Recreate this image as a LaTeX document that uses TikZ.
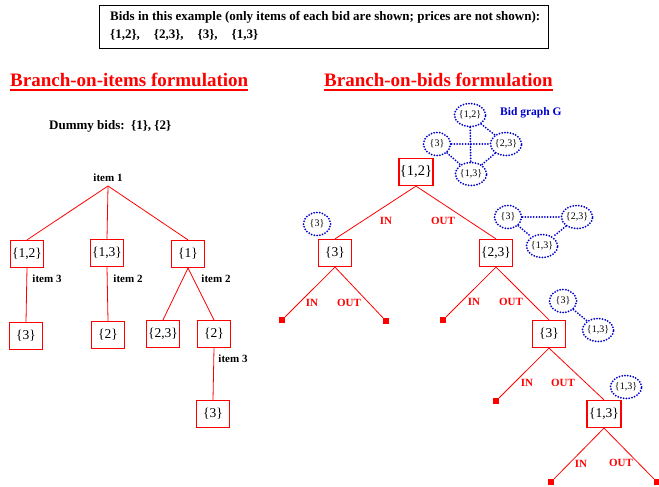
\documentclass[tikz,border=0pt]{standalone}
\usepackage{fontspec}
\setmainfont{Liberation Serif}
\usetikzlibrary{shapes.geometric}
\begin{document}
\begin{tikzpicture}[x=1pt,y=-1pt,
  bx/.style={draw=red, line width=1.2pt, minimum width=33pt, minimum height=27pt, inner sep=0pt, font=\fontsize{13.5}{13.5}\selectfont},
  lbl/.style={font=\fontsize{11}{11}\selectfont\bfseries, inner sep=0pt},
  io/.style={font=\fontsize{11}{11}\selectfont\bfseries, text=red, inner sep=0pt},
  ln/.style={draw=red, line width=0.8pt},
  leaf/.style={fill=red, minimum size=6pt, inner sep=0pt},
  bid/.style={ellipse, draw=blue!80!black, line width=2pt, dash pattern=on 0pt off 2.8pt, line cap=round, minimum width=27pt, minimum height=23pt, inner sep=0pt, font=\fontsize{10}{10}\selectfont},
  bidln/.style={draw=blue!80!black, line width=2pt, dash pattern=on 0pt off 2.8pt, line cap=round},
  head/.style={font=\fontsize{19}{19}\selectfont\bfseries, text=red, inner sep=0pt, anchor=base west}
]
\useasboundingbox (0,0) rectangle (659,487);

% top box
\node[draw=black, line width=1.1pt, minimum width=449pt, minimum height=43pt, anchor=north west, inner sep=0pt] (top) at (99,5) {};
\node[anchor=base west, inner sep=0pt, font=\fontsize{13}{13}\selectfont\bfseries] (t1) at (110,21) {Bids in this example (only items of each bid are shown; prices are not shown):};
\node[anchor=base west, inner sep=0pt, font=\fontsize{13}{13}\selectfont\bfseries] (t2) at (110,39) {\{1,2\},\hspace{14pt}\{2,3\},\hspace{14pt}\{3\},\hspace{14pt}\{1,3\}};

% headings
\node[head] (h1) at (10,87) {Branch-on-items formulation};
\node[head] (h2) at (324,87) {Branch-on-bids formulation};
\draw[red, line width=1.6pt] ([yshift=-3pt]h1.base west) -- ([yshift=-3pt]h1.base east);
\draw[red, line width=1.6pt] ([yshift=-3pt]h2.base west) -- ([yshift=-3pt]h2.base east);

\node[anchor=west, inner sep=0pt, font=\fontsize{13}{13}\selectfont\bfseries] (dummy) at (49,126) {Dummy bids:\ \ \{1\},\ \{2\}};

% left tree
\node[lbl] (i1) at (108,178) {item 1};
\coordinate (r1) at (108,186);
\node[bx] (a12) at (27,254) {\{1,2\}};
\node[bx] (a13) at (107,253) {\{1,3\}};
\node[bx] (a1) at (188,254) {\{1\}};
\node[bx] (a3) at (26,336) {\{3\}};
\node[bx] (a2) at (108,335) {\{2\}};
\node[bx] (a23) at (163,334) {\{2,3\}};
\node[bx] (a2b) at (214,334) {\{2\}};
\node[bx] (a3b) at (213,414) {\{3\}};
\draw[ln] (r1) -- (a12.north);
\draw[ln] (r1) -- (a13.north);
\draw[ln] (r1) -- (a1.north);
\draw[ln] (a12.south) -- (a3.north);
\draw[ln] (a13.south) -- (a2.north);
\draw[ln] (a1.south) -- (a23.north);
\draw[ln] (a1.south) -- (a2b.north);
\draw[ln] (a2b.south) -- (a3b.north);
\node[lbl] (l1) at (47,279) {item 3};
\node[lbl] (l2) at (128,279) {item 2};
\node[lbl] (l3) at (216,279) {item 2};
\node[lbl] (l4) at (233,359) {item 3};

% right tree
\node[bx, minimum width=34pt, font=\fontsize{14.5}{14.5}\selectfont] (b12) at (416,172) {\{1,2\}};
\node[bx] (b3) at (335,253) {\{3\}};
\node[bx] (b23) at (496,253) {\{2,3\}};
\node[bx] (c3) at (549,334) {\{3\}};
\node[bx, minimum width=34pt] (c13) at (604,414) {\{1,3\}};
\node[leaf] (f1) at (282,320) {};
\node[leaf] (f2) at (386,321) {};
\node[leaf] (f3) at (443,320) {};
\node[leaf] (f4) at (496,401) {};
\node[leaf] (f5) at (551,482) {};
\node[leaf] (f6) at (657,482) {};
\draw[ln] (b12.south) -- (b3.north);
\draw[ln] (b12.south) -- (b23.north);
\draw[ln] (b3.south) -- (f1);
\draw[ln] (b3.south) -- (f2);
\draw[ln] (b23.south) -- (f3);
\draw[ln] (b23.south) -- (c3.north);
\draw[ln] (c3.south) -- (f4);
\draw[ln] (c3.south) -- (c13.north);
\draw[ln] (c13.south) -- (f5);
\draw[ln] (c13.south) -- (f6);
\node[io] (in1) at (386,221) {IN};
\node[io] (out1) at (443,221) {OUT};
\node[io] (in2) at (312,303) {IN};
\node[io] (out2) at (349,303) {OUT};
\node[io] (in3) at (474,302) {IN};
\node[io] (out3) at (511,302) {OUT};
\node[io] (in4) at (527,383) {IN};
\node[io] (out4) at (563,383) {OUT};
\node[io] (in5) at (581,464) {IN};
\node[io] (out5) at (621,463) {OUT};

% bid graph G
\node[bid] (g12) at (470,115) {\{1,2\}};
\node[bid] (g3) at (437,144) {\{3\}};
\node[bid] (g23) at (506,144) {\{2,3\}};
\node[bid] (g13) at (471,174) {\{1,3\}};
\draw[bidln] (g12) -- (g13);
\draw[bidln] (g3) -- (g23);
\draw[bidln] (g12) -- (g23);
\draw[bidln] (g3) -- (g13);
\draw[bidln] (g23) -- (g13);
\node[anchor=west, inner sep=0pt, text=blue!80!black, font=\fontsize{11.5}{11.5}\selectfont\bfseries] (gl) at (500,113) {Bid graph G};

% small graphs
\node[bid] (s3) at (317,224) {\{3\}};

\node[bid] (p3) at (508,217) {\{3\}};
\node[bid] (p23) at (577,217) {\{2,3\}};
\node[bid] (p13) at (542,246) {\{1,3\}};
\draw[bidln] (p3) -- (p23);
\draw[bidln] (p3) -- (p13);
\draw[bidln] (p23) -- (p13);

\node[bid] (q3) at (563,301) {\{3\}};
\node[bid] (q13) at (598,330) {\{1,3\}};
\draw[bidln] (q3) -- (q13);

\node[bid] (r13) at (626,387) {\{1,3\}};
\end{tikzpicture}
\end{document}
